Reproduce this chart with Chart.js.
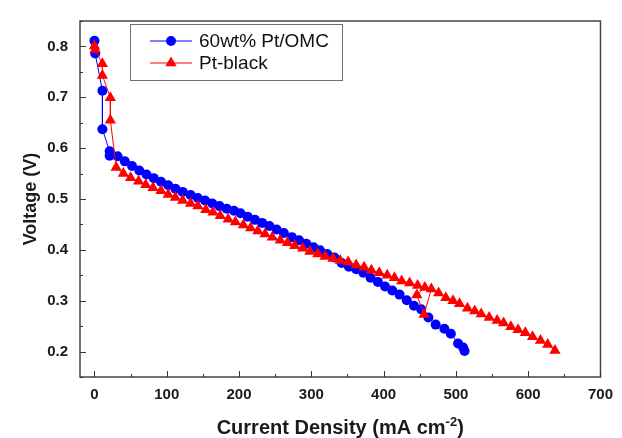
<html>
<head>
<title>Polarization curves</title>
<script src="https://cdn.jsdelivr.net/npm/chart.js@4.4.0/dist/chart.umd.min.js"></script>
<style>
  body { margin: 0; background: #fff; }
  #wrap { position: relative; width: 622px; height: 438px; }
</style>
</head>
<body>
<div id="wrap"><canvas id="myChart" width="622" height="438"></canvas></div>
<script>
// current density (mA cm-2) and cell voltage (V) for each catalyst
var omcCurrent = [0, 1, 11, 11, 21, 21, 32, 42, 52, 62, 72, 82, 92, 102, 112, 122,
  133, 143, 153, 163, 173, 183, 193, 202, 212, 222, 232, 242, 252, 262, 273, 283,
  293, 303, 312, 322, 332, 342, 352, 362, 372, 382, 392, 402, 412, 422, 432, 442,
  452, 462, 472, 484, 493, 503, 510, 512];
var omcVoltage = [0.811, 0.786, 0.713, 0.637, 0.594, 0.585, 0.584, 0.574, 0.565, 0.556,
  0.548, 0.541, 0.534, 0.527, 0.520, 0.514, 0.508, 0.502, 0.497, 0.491, 0.486, 0.481,
  0.477, 0.472, 0.465, 0.459, 0.453, 0.447, 0.440, 0.433, 0.425, 0.419, 0.412, 0.405,
  0.399, 0.392, 0.385, 0.374, 0.367, 0.362, 0.355, 0.345, 0.337, 0.328, 0.320, 0.312,
  0.301, 0.290, 0.283, 0.267, 0.253, 0.245, 0.235, 0.216, 0.208, 0.201];

var blackCurrent = [0, 1, 11, 11, 22, 22, 30, 40, 50, 61, 71, 81, 92, 102, 112, 122,
  133, 143, 154, 164, 174, 185, 195, 206, 216, 226, 236, 246, 257, 267, 277, 288,
  298, 309, 319, 330, 340, 351, 362, 373, 383, 394, 405, 415, 425, 436, 447, 457,
  446, 456, 466, 476, 486, 496, 505, 516, 526, 535, 546, 557, 566, 576, 586, 596,
  606, 617, 627, 637];
var blackVoltage = [0.801, 0.794, 0.766, 0.743, 0.699, 0.655, 0.562, 0.550, 0.542, 0.535,
  0.528, 0.522, 0.516, 0.509, 0.503, 0.497, 0.491, 0.486, 0.479, 0.474, 0.467, 0.460,
  0.455, 0.449, 0.443, 0.437, 0.431, 0.425, 0.419, 0.414, 0.408, 0.403, 0.397, 0.392,
  0.387, 0.383, 0.379, 0.376, 0.370, 0.366, 0.360, 0.355, 0.350, 0.345, 0.339, 0.335,
  0.330, 0.326, 0.311, 0.273, 0.323, 0.315, 0.306, 0.300, 0.294, 0.285, 0.280, 0.274,
  0.267, 0.261, 0.256, 0.249, 0.243, 0.237, 0.229, 0.222, 0.214, 0.202];

var seriesNames = ['60wt% Pt/OMC', 'Pt-black'];
var xTicks = [0, 100, 200, 300, 400, 500, 600, 700];
var yTicks = [0.2, 0.3, 0.4, 0.5, 0.6, 0.7, 0.8];

function toPoints(xs, ys) {
  return xs.map(function(x, i) { return { x: x, y: ys[i] }; });
}

var family = '"Liberation Sans", Arial, sans-serif';

// frame, inward ticks, axis titles and the boxed legend
var decorations = {
  id: 'decorations',
  afterDraw: function(chart) {
    var ctx = chart.ctx, a = chart.chartArea;
    var xs = chart.scales.x, ys = chart.scales.y;
    ctx.save();

    ctx.strokeStyle = '#444';
    ctx.lineWidth = 1.5;
    ctx.strokeRect(a.left, a.top, a.right - a.left, a.bottom - a.top);

    ctx.strokeStyle = '#333';
    ctx.lineWidth = 1;
    ctx.beginPath();
    xTicks.forEach(function(v, i) {
      var p = Math.round(xs.getPixelForValue(v)) + 0.5;
      ctx.moveTo(p, a.bottom); ctx.lineTo(p, a.bottom - 6);
      if (i < xTicks.length - 1) {
        var m = Math.round(xs.getPixelForValue(v + 50)) + 0.5;
        ctx.moveTo(m, a.bottom); ctx.lineTo(m, a.bottom - 3);
      }
    });
    yTicks.forEach(function(v) {
      var p = Math.round(ys.getPixelForValue(v)) + 0.5;
      ctx.moveTo(a.left, p); ctx.lineTo(a.left + 6, p);
      [v - 0.05, v + 0.05].forEach(function(mv) {
        var m = Math.round(ys.getPixelForValue(mv)) + 0.5;
        ctx.moveTo(a.left, m); ctx.lineTo(a.left + 3, m);
      });
    });
    ctx.stroke();

    // axis titles
    ctx.fillStyle = '#1a1a1a';
    ctx.textBaseline = 'alphabetic';
    var main = 'Current Density (mA cm';
    ctx.font = 'bold 20px ' + family;
    var w1 = ctx.measureText(main).width;
    var w3 = ctx.measureText(')').width;
    ctx.font = 'bold 13px ' + family;
    var w2 = ctx.measureText('-2').width;
    var tx = (a.left + a.right) / 2 - (w1 + w2 + w3) / 2;
    var ty = 434;
    ctx.font = 'bold 20px ' + family;
    ctx.textAlign = 'left';
    ctx.fillText(main, tx, ty);
    ctx.fillText(')', tx + w1 + w2, ty);
    ctx.font = 'bold 13px ' + family;
    ctx.fillText('-2', tx + w1, ty - 8);

    ctx.save();
    ctx.translate(36, (a.top + a.bottom) / 2);
    ctx.rotate(-Math.PI / 2);
    ctx.textAlign = 'center';
    ctx.font = 'bold 18px ' + family;
    ctx.fillText('Voltage (V)', 0, 0);
    ctx.restore();

    // legend
    ctx.strokeStyle = '#707070';
    ctx.lineWidth = 1;
    ctx.strokeRect(130.5, 24.5, 212, 56);
    ctx.font = '19px ' + family;
    ctx.textAlign = 'left';
    ctx.textBaseline = 'middle';
    chart.data.datasets.forEach(function(ds, i) {
      var y = 41 + i * 22;
      ctx.strokeStyle = ds.borderColor;
      ctx.beginPath();
      ctx.moveTo(150, y); ctx.lineTo(192, y);
      ctx.stroke();
      ctx.fillStyle = ds.pointBackgroundColor;
      Chart.helpers.drawPoint(ctx, { pointStyle: ds.pointStyle, radius: ds.pointRadius, borderWidth: 0, rotation: 0 }, 171, y);
      ctx.fillStyle = '#111';
      ctx.fillText(seriesNames[i], 199, y + 1);
    });
    ctx.restore();
  }
};

var tickFont = { family: family, size: 15, weight: 'bold' };

var ctx = document.getElementById('myChart').getContext('2d');
var myChart = new Chart(ctx, {
  type: 'scatter',
  data: {
    datasets: [{
      label: seriesNames[0],
      data: toPoints(omcCurrent, omcVoltage),
      showLine: true,
      borderColor: '#0000ff',
      borderWidth: 1,
      pointStyle: 'circle',
      pointRadius: 5,
      pointBackgroundColor: '#0000ff',
      pointBorderColor: '#0000ff',
      pointBorderWidth: 0,
      order: 1
    }, {
      label: seriesNames[1],
      data: toPoints(blackCurrent, blackVoltage),
      showLine: true,
      borderColor: '#ff0000',
      borderWidth: 1,
      pointStyle: 'triangle',
      pointRadius: 6.5,
      pointBackgroundColor: '#ff0000',
      pointBorderColor: '#ff0000',
      pointBorderWidth: 0,
      order: 0
    }]
  },
  options: {
    responsive: false,
    animation: false,
    devicePixelRatio: 1,
    layout: { padding: { left: 0, top: 13, right: 19, bottom: 0 } },
    plugins: { legend: { display: false }, tooltip: { enabled: false } },
    scales: {
      x: {
        type: 'linear',
        min: -20,
        max: 700,
        grid: { display: false, drawTicks: false },
        border: { display: false },
        afterBuildTicks: function(s) { s.ticks = xTicks.map(function(v) { return { value: v }; }); },
        afterFit: function(s) { s.height = 61; },
        ticks: { color: '#1a1a1a', font: tickFont, padding: 9, maxRotation: 0 }
      },
      y: {
        type: 'linear',
        min: 0.15,
        max: 0.85,
        grid: { display: false, drawTicks: false },
        border: { display: false },
        afterBuildTicks: function(s) { s.ticks = yTicks.map(function(v) { return { value: v }; }); },
        afterFit: function(s) { s.width = 80; },
        ticks: { color: '#1a1a1a', font: tickFont, padding: 12,
          callback: function(v) { return v.toFixed(1); } }
      }
    }
  },
  plugins: [decorations]
});
</script>
</body>
</html>
